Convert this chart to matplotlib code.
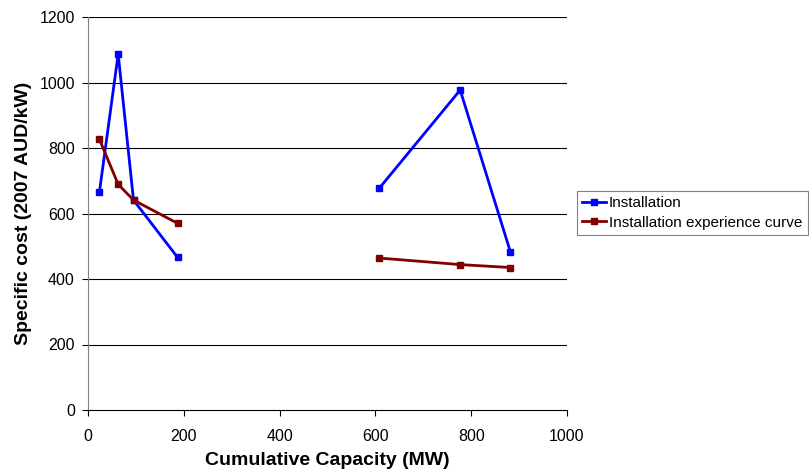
import numpy as np
import matplotlib
matplotlib.use("Agg")
import matplotlib.pyplot as plt

plt.rcParams['font.family'] = ['Liberation Sans', 'DejaVu Sans']

capacity = [24, 63, 95, 187, np.nan, 608, 777, 882]
installation = [667, 1087, 641, 466, np.nan, 677, 977, 482]
experience_curve = [826, 689, 641, 570, np.nan, 464, 444, 435]

x_ticks = [0, 200, 400, 600, 800, 1000]
y_ticks = [0, 200, 400, 600, 800, 1000, 1200]

fig = plt.figure(figsize=(8.09, 4.75), dpi=100)
ax = fig.add_axes([88/809, 1-410/475, (567-88)/809, (410-17)/475])

for y in y_ticks[1:]:
    ax.axhline(y, color='black', lw=0.8, zorder=1)

ax.plot(capacity, installation, color='#0000FF', lw=2, marker='s', ms=4.5,
        label='Installation', zorder=3)
ax.plot(capacity, experience_curve, color='#800000', lw=2, marker='s', ms=4.5,
        label='Installation experience curve', zorder=3)

ax.set_xlim(0, 1000)
ax.set_ylim(0, 1200)
ax.set_xticks(x_ticks)
ax.set_yticks(y_ticks)
ax.tick_params(labelsize=11.5, length=4.5, width=0.8, color='black')
ax.tick_params(axis='x', pad=9)
ax.tick_params(axis='y', pad=5)
for s in ['top', 'right']:
    ax.spines[s].set_visible(False)
ax.spines['left'].set_color('#808080')
ax.spines['bottom'].set_color('black')

ax.set_xlabel('Cumulative Capacity (MW)', fontsize=14, fontweight='bold', labelpad=6)
ax.set_ylabel('Specific cost (2007 AUD/kW)', fontsize=14, fontweight='bold', labelpad=5)

leg = fig.legend(loc='upper left', bbox_to_anchor=(577/809, 1-191/475), fontsize=11,
                 frameon=True, fancybox=False, edgecolor='#606060', handlelength=1.55,
                 handletextpad=0.2, borderpad=0.35, labelspacing=0.35, borderaxespad=0)
leg.get_frame().set_linewidth(0.8)

fig.savefig('out.png', dpi=100)
